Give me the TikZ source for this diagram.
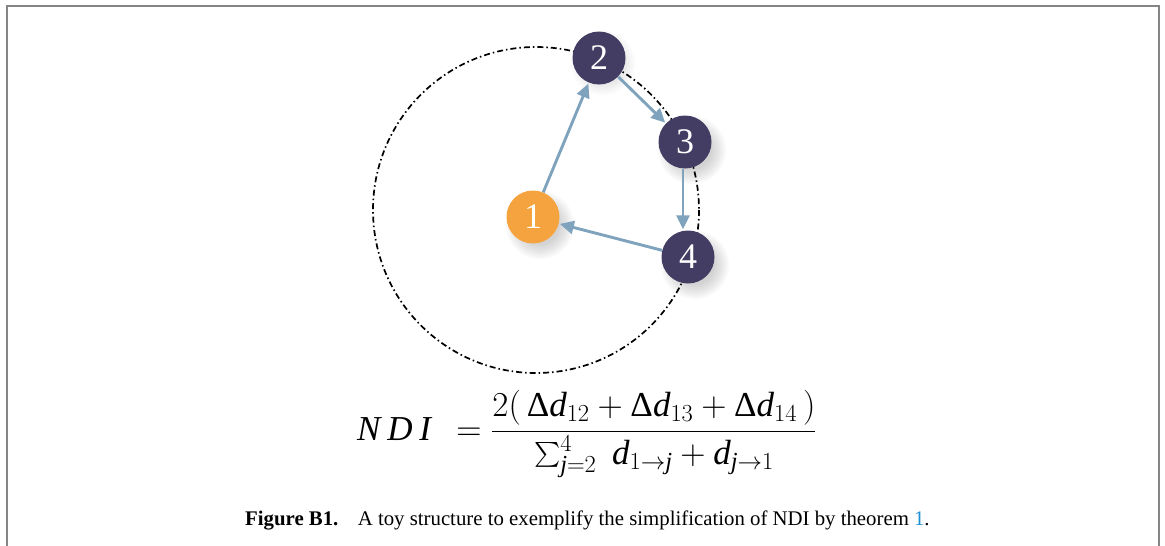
\RequirePackage{fix-cm}
\documentclass[tikz,border=0pt]{standalone}
\usepackage{amsmath}
\usepackage{fontspec}
\setmainfont{Liberation Serif}
\usetikzlibrary{arrows.meta}
\definecolor{nodepurple}{HTML}{443D63}
\definecolor{nodeorange}{HTML}{F5A33E}
\definecolor{arrowblue}{HTML}{7FA2BD}
\definecolor{framegray}{HTML}{858585}
\definecolor{linkblue}{HTML}{1E8FD8}
\newcommand{\Dlt}{\textup{Δ}}
\tikzset{
  graphnode/.style={circle, minimum size=53pt, inner sep=0pt, text=white,
    font=\fontsize{36}{36}\selectfont},
  purplenode/.style={graphnode, fill=nodepurple},
  orangenode/.style={graphnode, fill=nodeorange},
  flow/.style={draw=arrowblue, line width=2.9pt, -{Triangle[length=14pt,width=13pt]}, shorten >=1pt},
  bigcircle/.style={draw=black, line width=1.7pt,
    dash pattern=on 6pt off 3pt on 1.5pt off 3pt},
  frameline/.style={draw=framegray, line width=2.2pt}
}
\begin{document}
\begin{tikzpicture}[x=1pt,y=-1pt]
\useasboundingbox (0,0) rectangle (1165,546);
\draw[frameline] (7,546) -- (7,6) -- (1159,6) -- (1159,546);
% big dash-dot circle
\draw[bigcircle] (536,210) circle[radius=163];
% soft shadows
\foreach \p in {(533,217),(685,142),(688,257)}{
  \foreach \r in {2,4,...,16}{
    \fill[black, opacity=0.022] \p ++(7,8) circle[radius=18+\r];
  }
}
\foreach \r in {2,4,...,12}{
  \fill[black, opacity=0.015] (599,58) ++(4,5) circle[radius=20+\r];
}
% nodes
\node[orangenode] (n1) at (533,217) {1};
\node[purplenode] (n2) at (599,58) {2};
\node[purplenode] (n3) at (685,142) {3};
\node[purplenode] (n4) at (688,257) {4};
% arrows
\draw[flow] (n1) -- (n2);
\draw[flow] (n2) -- (n3);
\draw[flow] ([xshift=-2pt]n3.south) -- ([xshift=-5pt]n4.north);
\draw[flow] (n4) -- (n1);
% formula
\node[anchor=base west, inner sep=0pt] (formula) at (357,440) {\fontsize{35}{40}\selectfont
  $\mathit{N\mkern3.5mu D\mkern3.5mu I}\;\, = \dfrac{2(\,\Dlt\mathit{d}_{12} + \Dlt\mathit{d}_{13} + \Dlt\mathit{d}_{14}\,)}{\textstyle\sum_{\mathit{j}=2}^{4}\; \mathit{d}_{1\rightarrow \mathit{j}} + \mathit{d}_{\mathit{j}\rightarrow 1}}$};
% caption
\node[anchor=base west, inner sep=0pt] (caption) at (245,525) {\fontsize{20.8}{22}\selectfont
  \textbf{Figure B1.}\hspace{0.6em} A toy structure to exemplify the simplification of NDI by theorem \textcolor{linkblue}{1}.};
\end{tikzpicture}
\end{document}
